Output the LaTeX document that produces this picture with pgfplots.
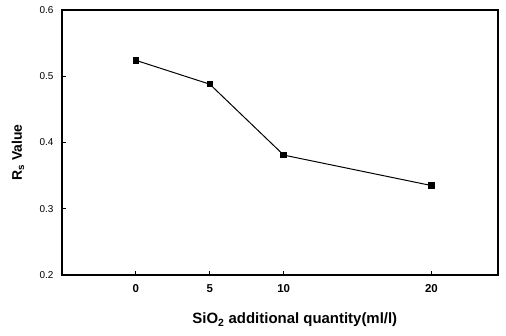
\documentclass[border=0pt]{standalone}
\usepackage{pgfplots}
\pgfplotsset{compat=1.18}
\usepackage{fontspec}
\setmainfont{Liberation Sans}
\begin{document}
\begin{tikzpicture}
\begin{axis}[
  scale only axis,
  width=436bp, height=265bp,
  xmin=-5, xmax=24.5,
  ymin=0.2, ymax=0.6,
  xtick={0,5,10,20},
  ytick={0.2,0.3,0.4,0.5,0.6},
  yticklabel style={/pgf/number format/fixed,/pgf/number format/precision=1,font=\fontsize{10}{11}\selectfont, xshift=-5bp},
  xticklabel style={font=\bfseries\fontsize{11.5}{12}\selectfont, yshift=-6bp},
  /pgf/number format/assume math mode=true,
  tick align=inside,
  xtick pos=bottom, ytick pos=left,
  major tick length=4bp,
  axis line style={line width=1.3pt},
  tick style={line width=0.9pt, black},
  xlabel={SiO\textsubscript{2} additional quantity(ml/l)},
  ylabel={R\textsubscript{s} Value},
  xlabel style={font=\bfseries\fontsize{15}{16}\selectfont, at={(axis description cs:0.534,-0.17)}, anchor=center},
  ylabel style={font=\bfseries\fontsize{14}{15}\selectfont, at={(axis description cs:-0.1009,0.4623)}, anchor=center, rotate=0},
]
\addplot[black, line width=1pt, mark=square*, mark size=2.8pt] coordinates {
  (0,0.524) (5,0.488) (10,0.381) (20,0.335)
};
\end{axis}
\pgfresetboundingbox
\path (-62bp,-61bp) rectangle (444bp,275bp);
\end{tikzpicture}
\end{document}
